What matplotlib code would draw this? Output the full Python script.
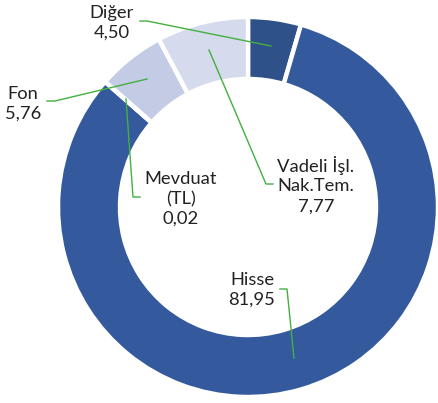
import matplotlib
matplotlib.use("Agg")
import matplotlib.pyplot as plt

categories = ["Diğer", "Hisse", "Mevduat\n(TL)", "Fon", "Vadeli İşl.\nNak.Tem."]
values = [4.50, 81.95, 0.02, 5.76, 7.77]
value_labels = ["4,50", "81,95", "0,02", "5,76", "7,77"]
colors = ["#2F5189", "#345A9D", "#3A62A8", "#C4CCE5", "#D5DAEC"]
explode = [0.02, 0.0, 0.0, 0.02, 0.02]

W, H = 439, 403
fig = plt.figure(figsize=(W / 100, H / 100), dpi=100)
ax = fig.add_axes([0, 0, 1, 1])

cx, cy = 248, H - 207
R, r = 190, 128
ax.pie(values, colors=colors, startangle=90, counterclock=False, radius=R,
       center=(cx, cy), explode=explode, frame=True,
       wedgeprops=dict(width=R - r, edgecolor="white", linewidth=3.2))
ax.set_xlim(0, W)
ax.set_ylim(0, H)
ax.set_aspect("equal")
ax.axis("off")

def P(x, y):
    return (x, H - y)

font = dict(family=["Lato", "DejaVu Sans"], fontsize=13.2, color="#222222",
            ha="center", va="center", linespacing=1.3)
green = "#44B040"

texts = {
    0: (112, 23),
    1: (252, 290),
    2: (181, 199),
    3: (23, 104),
    4: (316, 185),
}
leaders = {
    0: [(140, 21), (147, 21), (271, 46)],
    1: [(280, 289), (287, 289), (294, 358)],
    2: [(140, 197), (133, 197), (126, 99)],
    3: [(47, 101), (55, 101), (147, 79)],
    4: [(273, 184), (266, 184), (209, 50)],
}
for i in range(len(values)):
    tx, ty = texts[i]
    ax.text(*P(tx, ty), f"{categories[i]}\n{value_labels[i]}", **font)
    pts = [P(*p) for p in leaders[i]]
    ax.plot([p[0] for p in pts], [p[1] for p in pts], color=green, lw=1.0)

fig.savefig("out.png", dpi=100, facecolor="white")
